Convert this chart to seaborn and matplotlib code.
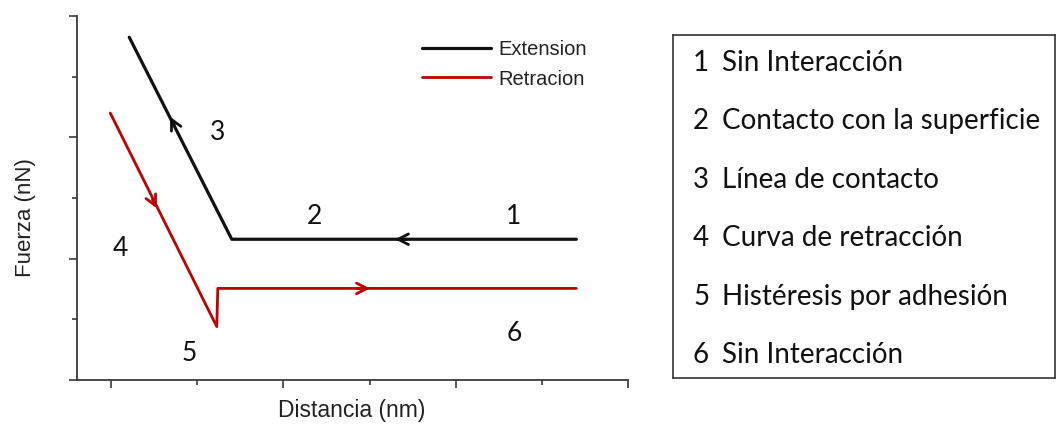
import numpy as np
import pandas as pd
import matplotlib
matplotlib.use("Agg")
import matplotlib.pyplot as plt
import seaborn as sns
from matplotlib.ticker import MultipleLocator, NullFormatter

# Curve vertices (arbitrary units)
ext_x = [0.21, 1.40, 5.40]
ext_y = [5.65, 2.32, 2.32]
ret_x = [-0.01, 1.226, 1.238, 5.40]
ret_y = [4.40, 0.88, 1.51, 1.51]

# direction arrows: tip positions
ext_arrow_x = [0.684, 3.295]
ext_arrow_y = [4.34, 2.32]
ret_arrow_x = [0.53, 3.005]
ret_arrow_y = [2.83, 1.51]

# region numbers on the plot
region_ids = ["1", "2", "3", "4", "5", "6"]
region_x = [4.675, 2.358, 1.238, 0.104, 0.908, 4.675]
region_y = [2.69, 2.69, 4.08, 2.17, 0.43, 0.77]

# description box
descriptions = [
    "Sin Interacción",
    "Contacto con la superficie",
    "Línea de contacto",
    "Curva de retracción",
    "Histéresis por adhesión",
    "Sin Interacción",
]

BLACK = "#111111"
RED = "#C00000"
AXIS = "#3a3a3a"
CAL = ["Lato", "DejaVu Sans"]


def add_arrows(ax, xs, ys, line_x, line_y, color):
    # each arrow points along the segment it sits on (in travel order)
    for tx, ty in zip(xs, ys):
        best = None
        for i in range(len(line_x) - 1):
            x0, y0, x1, y1 = line_x[i], line_y[i], line_x[i + 1], line_y[i + 1]
            d = np.array([x1 - x0, y1 - y0])
            t = np.dot([tx - x0, ty - y0], d) / np.dot(d, d)
            if 0 <= t <= 1:
                dist = np.hypot(x0 + t * d[0] - tx, y0 + t * d[1] - ty)
                if best is None or dist < best[0]:
                    best = (dist, d)
        d = best[1] / np.linalg.norm(best[1])
        ax.annotate(
            "",
            xy=(tx, ty),
            xytext=(tx - 0.15 * d[0], ty - 0.15 * d[1]),
            arrowprops=dict(arrowstyle="->,head_length=0.75,head_width=0.38",
                            color=color, lw=2.0, shrinkA=0, shrinkB=0),
        )


sns.set_style("ticks")
plt.rcParams["font.family"] = ["Liberation Sans", "DejaVu Sans"]

fig = plt.figure(figsize=(10.56, 4.24), dpi=100)
ax = fig.add_axes([76.7 / 1056, 44 / 424, 551.3 / 1056, 364 / 424])

ext = pd.DataFrame({"x": ext_x, "y": ext_y})
ret = pd.DataFrame({"x": ret_x, "y": ret_y})
sns.lineplot(data=ext, x="x", y="y", sort=False, estimator=None, color=BLACK,
             lw=2.3, label="Extension", ax=ax)
sns.lineplot(data=ret, x="x", y="y", sort=False, estimator=None, color=RED,
             lw=2.0, label="Retracion", ax=ax)

# extension travels right->left then up, retraction goes down then right
add_arrows(ax, ext_arrow_x, ext_arrow_y, ext_x[::-1], ext_y[::-1], BLACK)
add_arrows(ax, ret_arrow_x, ret_arrow_y, ret_x, ret_y, RED)

for lab, x, y in zip(region_ids, region_x, region_y):
    ax.text(x, y, lab, fontsize=19, family=CAL,
            ha="center", va="center", color="#111111")

ax.set_xlim(-0.4, 6)
ax.set_ylim(0, 6)
ax.xaxis.set_major_locator(MultipleLocator(2))
ax.xaxis.set_minor_locator(MultipleLocator(1))
ax.yaxis.set_major_locator(MultipleLocator(2))
ax.yaxis.set_minor_locator(MultipleLocator(1))
ax.xaxis.set_major_formatter(NullFormatter())
ax.yaxis.set_major_formatter(NullFormatter())
ax.tick_params(which="major", length=6, width=1.2, color=AXIS, direction="out")
ax.tick_params(which="minor", length=3.5, width=1.2, color=AXIS, direction="out")
for s in ["top", "right"]:
    ax.spines[s].set_visible(False)
for s in ["left", "bottom"]:
    ax.spines[s].set_color(AXIS)
    ax.spines[s].set_linewidth(1.3)

ax.set_xlabel("Distancia (nm)", fontsize=16.5, color="#222222")
ax.set_ylabel("Fuerza (nN)", fontsize=16, color="#222222")
ax.xaxis.set_label_coords(0.4995, -0.052)
ax.yaxis.set_label_coords(-0.074, 0.445)

leg = ax.legend(loc="upper left", bbox_to_anchor=(0.612, 0.955), frameon=False,
                fontsize=14.5, handlelength=3.4, handletextpad=0.4,
                labelspacing=0.5, borderaxespad=0)
for t in leg.get_texts():
    t.set_color("#222222")

# description box on the right
bx = fig.add_axes([673 / 1056, 46 / 424, 382 / 1056, 343 / 424])
bx.set_xlim(0, 382)
bx.set_ylim(343, 0)
bx.set_xticks([])
bx.set_yticks([])
for s in bx.spines.values():
    s.set_color("#333333")
    s.set_linewidth(1.2)
rows_y = [62.7, 121, 180, 238.3, 296.7, 355]
for i, (txt, yc) in enumerate(zip(descriptions, rows_y)):
    bx.text(20, yc - 35, str(i + 1), fontsize=20, family=CAL,
            ha="left", va="center", color="#111111")
    bx.text(49.5, yc - 35, txt, fontsize=20, family=CAL,
            ha="left", va="center", color="#111111")

fig.savefig("out.png", dpi=100)
